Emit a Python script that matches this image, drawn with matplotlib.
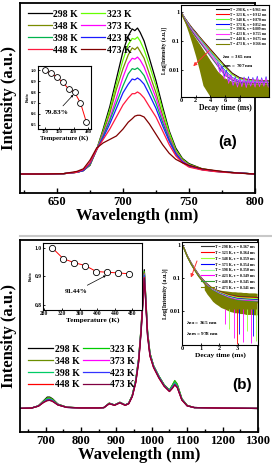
import numpy as np
import matplotlib.pyplot as plt
from matplotlib.ticker import MultipleLocator
from matplotlib.lines import Line2D

plt.rcParams['font.family'] = ['Liberation Serif', 'DejaVu Serif']
plt.rcParams['font.weight'] = 'bold'
plt.rcParams['axes.labelweight'] = 'bold'
plt.rcParams['mathtext.default'] = 'bf'

temps = [298, 323, 348, 373, 398, 423, 448, 473]
labels = ['%d K' % t for t in temps]

# ---- (a) emission spectra, 707 nm band
wl_a = [622, 640, 655, 665, 670, 675, 680, 685, 690, 695, 700, 704, 707, 709, 711,
        713, 716, 720, 725, 730, 735, 740, 745, 750, 760, 770, 780, 790, 800]
spec_a = {
    298: [0.11, 0.11, 0.112, 0.12, 0.13, 0.16, 0.25, 0.37, 0.50, 0.66, 0.82, 0.91, 0.95, 0.94, 0.955,
          0.93, 0.88, 0.78, 0.65, 0.50, 0.36, 0.26, 0.20, 0.17, 0.14, 0.128, 0.12, 0.115, 0.11],
    323: [0.11, 0.11, 0.112, 0.12, 0.13, 0.165, 0.25, 0.36, 0.48, 0.63, 0.77, 0.86, 0.895, 0.89, 0.903,
          0.88, 0.83, 0.74, 0.62, 0.48, 0.35, 0.25, 0.195, 0.165, 0.14, 0.127, 0.12, 0.115, 0.11],
    348: [0.11, 0.11, 0.112, 0.12, 0.13, 0.17, 0.25, 0.35, 0.46, 0.60, 0.72, 0.80, 0.84, 0.83, 0.845,
          0.82, 0.78, 0.69, 0.58, 0.45, 0.33, 0.24, 0.19, 0.16, 0.138, 0.126, 0.12, 0.115, 0.11],
    373: [0.11, 0.11, 0.112, 0.12, 0.13, 0.17, 0.25, 0.34, 0.43, 0.55, 0.67, 0.75, 0.78, 0.775, 0.787,
          0.77, 0.73, 0.65, 0.55, 0.43, 0.32, 0.235, 0.185, 0.16, 0.137, 0.126, 0.12, 0.115, 0.11],
    398: [0.11, 0.11, 0.112, 0.12, 0.13, 0.17, 0.25, 0.33, 0.42, 0.52, 0.62, 0.69, 0.72, 0.715, 0.724,
          0.71, 0.68, 0.61, 0.52, 0.41, 0.31, 0.23, 0.18, 0.155, 0.135, 0.125, 0.12, 0.115, 0.11],
    423: [0.11, 0.11, 0.112, 0.12, 0.13, 0.17, 0.25, 0.32, 0.40, 0.49, 0.58, 0.63, 0.66, 0.655, 0.666,
          0.655, 0.63, 0.57, 0.49, 0.39, 0.30, 0.225, 0.18, 0.155, 0.135, 0.125, 0.12, 0.115, 0.11],
    448: [0.11, 0.11, 0.112, 0.12, 0.135, 0.175, 0.25, 0.31, 0.37, 0.44, 0.51, 0.55, 0.575, 0.575, 0.585,
          0.575, 0.55, 0.50, 0.44, 0.36, 0.28, 0.215, 0.175, 0.15, 0.133, 0.124, 0.118, 0.114, 0.11],
    473: [0.11, 0.11, 0.112, 0.125, 0.14, 0.19, 0.26, 0.29, 0.31, 0.33, 0.37, 0.41, 0.43, 0.445, 0.45,
          0.45, 0.44, 0.40, 0.34, 0.28, 0.23, 0.195, 0.175, 0.16, 0.14, 0.13, 0.12, 0.114, 0.11],
}
colors_a = ['black', '#66ff00', '#7a8c00', '#ff00ff', '#00b34d', '#1a1aff', '#ff1a40', '#800000']

ratio_a = [1.0, 0.975, 0.94, 0.89, 0.83, 0.7983, 0.70, 0.52]

# ---- (a) decay curves
t_a = [0, 0.25, 0.5, 1, 1.5, 2, 2.5, 3, 4, 5, 6, 7, 8, 9, 10, 11, 12]
decay_a = {
    298: [1.0, 0.78, 0.62, 0.41, 0.28, 0.20, 0.14, 0.10, 0.052, 0.027, 0.014, 0.0078, 0.0055, 0.0048, 0.0045, 0.0044, 0.0043],
    323: [1.0, 0.77, 0.61, 0.40, 0.27, 0.19, 0.135, 0.095, 0.049, 0.025, 0.013, 0.0072, 0.0052, 0.0046, 0.0044, 0.0043, 0.0042],
    348: [1.0, 0.76, 0.60, 0.39, 0.26, 0.18, 0.13, 0.09, 0.046, 0.024, 0.0125, 0.007, 0.005, 0.0045, 0.0043, 0.0042, 0.0042],
    373: [1.0, 0.75, 0.59, 0.37, 0.25, 0.17, 0.12, 0.083, 0.041, 0.020, 0.0095, 0.0055, 0.0042, 0.0040, 0.0038, 0.0039, 0.0038],
    398: [1.0, 0.74, 0.58, 0.36, 0.24, 0.165, 0.115, 0.08, 0.039, 0.019, 0.009, 0.0053, 0.0041, 0.0039, 0.0038, 0.0038, 0.0037],
    423: [1.0, 0.73, 0.56, 0.35, 0.23, 0.155, 0.105, 0.073, 0.035, 0.017, 0.0082, 0.005, 0.004, 0.0038, 0.0037, 0.0037, 0.0036],
    448: [1.0, 0.71, 0.54, 0.33, 0.21, 0.14, 0.095, 0.065, 0.03, 0.014, 0.0068, 0.0045, 0.0038, 0.0036, 0.0035, 0.0035, 0.0035],
    473: [1.0, 0.68, 0.50, 0.29, 0.18, 0.115, 0.075, 0.048, 0.02, 0.0085, 0.005, 0.0038, 0.0035, 0.0034, 0.0034, 0.0034, 0.0034],
}
olive_low_a = [1.0, 0.66, 0.45, 0.2, 0.08, 0.03, 0.01, 0.003, 0.0012, 0.0012, 0.0012, 0.0012, 0.0012, 0.0012, 0.0012, 0.0012, 0.0012]
tau_a = ['0.961', '0.912', '0.870', '0.852', '0.809', '0.755', '0.675', '0.566']
colors_da = ['black', 'red', '#66ff33', '#0000ff', '#99ff99', '#ff33ff', '#555577', '#7a8000']

noise_t_a = [5.0, 5.3, 5.6, 5.9, 6.2, 6.5, 6.8, 7.1, 7.4, 7.7, 8.0, 8.3, 8.6, 8.9, 9.2, 9.5,
             9.8, 10.1, 10.4, 10.7, 11.0, 11.3, 11.6, 11.9]
blue_noise_a = [0.018, 0.009, 0.014, 0.006, 0.010, 0.004, 0.007, 0.003, 0.006, 0.0028, 0.0055, 0.003,
                0.0058, 0.0027, 0.006, 0.0029, 0.0056, 0.003, 0.0062, 0.0028, 0.0055, 0.003, 0.006, 0.0029]
mag_noise_a = [0.015, 0.008, 0.011, 0.005, 0.008, 0.0035, 0.0065, 0.003, 0.0052, 0.0026, 0.005, 0.0027,
               0.0054, 0.0025, 0.0052, 0.0028, 0.005, 0.0026, 0.0055, 0.0027, 0.005, 0.0028, 0.0053, 0.0026]

# ---- (b) emission spectra, 978 nm band
wl_b = [625, 660, 680, 695, 705, 712, 720, 735, 760, 800, 850, 865, 880, 895, 910, 925, 935, 945,
        955, 963, 970, 975, 979, 983, 988, 995, 1005, 1020, 1035, 1050, 1058, 1065, 1072, 1085,
        1100, 1120, 1200, 1300]
spec_b = {
    298: [0.135, 0.137, 0.15, 0.18, 0.20, 0.20, 0.19, 0.16, 0.142, 0.138, 0.138, 0.14, 0.165, 0.155, 0.17, 0.155, 0.165, 0.21,
          0.30, 0.42, 0.60, 0.78, 0.93, 0.78, 0.58, 0.45, 0.38, 0.32, 0.27, 0.24, 0.265, 0.29, 0.27, 0.19,
          0.152, 0.14, 0.137, 0.135],
    323: [0.135, 0.137, 0.15, 0.178, 0.195, 0.196, 0.187, 0.158, 0.142, 0.138, 0.138, 0.14, 0.165, 0.155, 0.17, 0.155, 0.165, 0.21,
          0.30, 0.42, 0.60, 0.77, 0.92, 0.77, 0.58, 0.45, 0.38, 0.32, 0.27, 0.24, 0.268, 0.295, 0.275, 0.19,
          0.152, 0.14, 0.137, 0.135],
    348: [0.135, 0.137, 0.15, 0.177, 0.194, 0.195, 0.186, 0.158, 0.142, 0.138, 0.138, 0.14, 0.165, 0.155, 0.17, 0.155, 0.165, 0.21,
          0.30, 0.42, 0.59, 0.77, 0.915, 0.77, 0.57, 0.45, 0.38, 0.32, 0.27, 0.24, 0.265, 0.29, 0.27, 0.19,
          0.152, 0.14, 0.137, 0.135],
    373: [0.135, 0.137, 0.149, 0.173, 0.186, 0.187, 0.18, 0.156, 0.141, 0.138, 0.138, 0.14, 0.163, 0.154, 0.168, 0.154, 0.163, 0.205,
          0.29, 0.41, 0.59, 0.76, 0.905, 0.76, 0.57, 0.44, 0.375, 0.315, 0.265, 0.235, 0.255, 0.275, 0.26, 0.185,
          0.15, 0.14, 0.137, 0.135],
    398: [0.135, 0.137, 0.149, 0.175, 0.19, 0.19, 0.183, 0.157, 0.141, 0.138, 0.138, 0.14, 0.164, 0.154, 0.169, 0.154, 0.164, 0.207,
          0.295, 0.41, 0.59, 0.76, 0.90, 0.76, 0.57, 0.445, 0.378, 0.318, 0.268, 0.238, 0.262, 0.285, 0.265, 0.188,
          0.151, 0.14, 0.137, 0.135],
    423: [0.135, 0.137, 0.149, 0.172, 0.185, 0.186, 0.179, 0.156, 0.141, 0.138, 0.138, 0.14, 0.163, 0.154, 0.168, 0.154, 0.163, 0.205,
          0.29, 0.41, 0.58, 0.75, 0.895, 0.75, 0.56, 0.44, 0.375, 0.315, 0.265, 0.235, 0.255, 0.275, 0.258, 0.185,
          0.15, 0.14, 0.137, 0.135],
    448: [0.135, 0.137, 0.148, 0.17, 0.18, 0.182, 0.176, 0.155, 0.141, 0.138, 0.138, 0.14, 0.162, 0.153, 0.167, 0.153, 0.162, 0.203,
          0.285, 0.40, 0.58, 0.75, 0.885, 0.75, 0.56, 0.435, 0.37, 0.31, 0.262, 0.232, 0.25, 0.27, 0.255, 0.183,
          0.15, 0.14, 0.137, 0.135],
    473: [0.135, 0.137, 0.148, 0.17, 0.18, 0.181, 0.175, 0.155, 0.141, 0.138, 0.138, 0.14, 0.162, 0.153, 0.167, 0.153, 0.162, 0.203,
          0.285, 0.40, 0.57, 0.74, 0.88, 0.74, 0.55, 0.435, 0.37, 0.31, 0.262, 0.232, 0.25, 0.27, 0.255, 0.183,
          0.15, 0.14, 0.137, 0.135],
}
colors_b = ['black', '#00cc00', '#6b8e00', '#ff00ff', '#00cc66', '#3333ff', '#ff0000', '#800040']

ratio_b = [1.0, 0.962, 0.948, 0.938, 0.917, 0.9144, 0.912, 0.909]

# ---- (b) decay curves
t_b = [0, 0.1, 0.2, 0.3, 0.5, 0.7, 0.9, 1.1, 1.3, 1.6, 2.0, 2.5, 3.0, 3.5, 4.1]
decay_b = {
    298: [1.0, 0.85, 0.62, 0.46, 0.29, 0.19, 0.13, 0.095, 0.072, 0.052, 0.040, 0.032, 0.028, 0.027, 0.026],
    323: [1.0, 0.84, 0.61, 0.455, 0.285, 0.186, 0.127, 0.093, 0.07, 0.05, 0.039, 0.031, 0.027, 0.026, 0.025],
    348: [1.0, 0.84, 0.61, 0.45, 0.28, 0.183, 0.125, 0.091, 0.068, 0.049, 0.038, 0.030, 0.026, 0.025, 0.024],
    373: [1.0, 0.83, 0.60, 0.445, 0.275, 0.18, 0.122, 0.089, 0.066, 0.047, 0.036, 0.028, 0.024, 0.023, 0.022],
    398: [1.0, 0.83, 0.60, 0.44, 0.272, 0.178, 0.12, 0.087, 0.065, 0.046, 0.035, 0.027, 0.023, 0.022, 0.021],
    423: [1.0, 0.83, 0.60, 0.44, 0.27, 0.176, 0.118, 0.086, 0.064, 0.045, 0.034, 0.026, 0.022, 0.021, 0.02],
    448: [1.0, 0.82, 0.59, 0.435, 0.265, 0.173, 0.116, 0.084, 0.062, 0.044, 0.033, 0.025, 0.021, 0.02, 0.019],
    473: [1.0, 0.82, 0.59, 0.43, 0.26, 0.17, 0.113, 0.082, 0.06, 0.042, 0.032, 0.024, 0.02, 0.019, 0.018],
}
tau_b = ['0.367', '0.364', '0.359', '0.354', '0.350', '0.349', '0.345', '0.341']
colors_db = ['#333333', 'red', '#99ff33', '#0000ff', '#99ff99', '#ff00ff', '#339933', '#7a8000']

noise_t_b = [1.2, 1.35, 1.5, 1.65, 1.8, 1.95, 2.1, 2.25, 2.4, 2.55, 2.7, 2.85, 3.0, 3.15, 3.3, 3.45,
             3.6, 3.75, 3.9, 4.05]
olive_hi_b = [0.075, 0.06, 0.055, 0.05, 0.047, 0.045, 0.043, 0.042, 0.041, 0.04, 0.039, 0.039, 0.038, 0.038,
              0.037, 0.037, 0.036, 0.036, 0.036, 0.035]
olive_lo_b = [0.045, 0.033, 0.026, 0.02, 0.017, 0.015, 0.013, 0.012, 0.011, 0.01, 0.0095, 0.009, 0.009, 0.0085,
              0.0085, 0.008, 0.008, 0.008, 0.0078, 0.0078]
spike_t_b = [2.3, 2.55, 2.8, 2.95, 3.1, 3.3, 3.5, 3.7, 3.85, 4.0]
spike_lo_b = [0.004, 0.003, 0.0015, 0.001, 0.002, 0.0012, 0.0025, 0.0011, 0.0018, 0.0013]
spike_col_b = ['#ff00ff', '#99ff33', '#ff00ff', 'red', '#0000ff', '#ff00ff', '#99ff33', '#ff00ff', '#0000ff', '#99ff33']

W, H = 272, 469
fig = plt.figure(figsize=(W / 100, H / 100), dpi=100)


def box(x0, y0, x1, y1):
    # pixel box (top-left origin) -> figure fraction rect
    return [x0 / W, (H - y1) / H, (x1 - x0) / W, (y1 - y0) / H]


def style_main(ax):
    for s in ax.spines.values():
        s.set_linewidth(1.3)
    ax.set_yticks([])
    ax.tick_params(axis='x', direction='in', length=3.5, width=1, labelsize=9, pad=2)
    ax.tick_params(axis='x', which='minor', direction='in', length=2.5, width=1)
    ax.set_ylabel('Intensity (a.u.)', fontsize=12, labelpad=2)
    ax.set_xlabel('Wavelength (nm)', fontsize=12, labelpad=0)


def style_inset(ax, fs=3.5):
    for s in ax.spines.values():
        s.set_linewidth(0.8)
    ax.tick_params(direction='in', length=1.5, width=0.6, labelsize=fs, pad=1)


def row_legend(ax, anchor, hl):
    # legend reads across rows: 298 323 / 348 373 / ...
    h, l = ax.get_legend_handles_labels()
    order = [0, 2, 4, 6, 1, 3, 5, 7]
    ax.legend([h[i] for i in order], [l[i] for i in order], ncol=2, loc='upper left',
              bbox_to_anchor=anchor, frameon=False, fontsize=7, handlelength=hl,
              handletextpad=0.2, columnspacing=0.3, labelspacing=0.3, borderaxespad=0.2)


# ================= panel (a)
ax = fig.add_axes(box(20, 3, 255, 193))
for t, c, lab in zip(temps, colors_a, labels):
    ax.plot(wl_a, spec_a[t], color=c, lw=0.9, label=lab)
ax.set_xlim(622, 800)
ax.set_ylim(0, 1.1)
ax.xaxis.set_major_locator(MultipleLocator(50))
ax.xaxis.set_minor_locator(MultipleLocator(25))
style_main(ax)
row_legend(ax, (0.01, 0.995), 2.4)
fig.text(218 / W, 1 - 142 / H, '(a)', fontsize=11, family='Liberation Sans', weight='bold',
         ha='left', va='center')

# ratio inset (a)
ia = fig.add_axes(box(38, 66, 91, 129))
ia.plot(temps, ratio_a, color='red', lw=0.7)
ia.plot(temps, ratio_a, 'o', ms=4.2, mfc='white', mec='black', mew=0.6)
ia.set_xlim(270, 492)
ia.set_ylim(0.46, 1.04)
ia.set_xticks([300, 360, 420, 480])
ia.set_yticks([0.5, 0.6, 0.7, 0.8, 0.9, 1.0])
style_inset(ia, 3.3)
ia.set_xlabel('Temperature (K)', fontsize=4.8, labelpad=0.5)
ia.set_ylabel('Ratio', fontsize=3, labelpad=1)
ia.annotate('79.83%', xy=(418, 0.775), xytext=(350, 0.615), fontsize=5.3, ha='center', va='center',
            arrowprops=dict(arrowstyle='-|>', lw=0.5, color='black', mutation_scale=3,
                            shrinkA=1, shrinkB=0))

# decay inset (a)
da = fig.add_axes(box(181, 5, 269, 97))
da.fill_between(t_a, olive_low_a, decay_a[473], color='#7a8000', lw=0)
for t, c, tau in zip(temps, colors_da, tau_a):
    da.plot(t_a, decay_a[t], color=c, lw=0.8, label='T = %d K, \u03c4 = %s ms' % (t, tau))
da.plot(noise_t_a, blue_noise_a, color='#3333ff', lw=0.5)
da.plot(noise_t_a, mag_noise_a, color='#ff33ff', lw=0.5)
da.set_yscale('log')
da.set_xlim(0, 12)
da.set_ylim(0.0012, 1.7)
da.set_yticks([1, 0.1, 0.01])
da.set_yticklabels(['1', '0.1', '0.01'])
da.yaxis.set_minor_locator(plt.NullLocator())
da.set_xticks([0, 2, 4, 6, 8])
style_inset(da, 4.5)
da.set_xlabel('Decay time (ms)', fontsize=5.5, labelpad=0.5)
da.set_ylabel('Log[Intensity (a.u.)]', fontsize=4, labelpad=1)
da.legend(loc='upper right', frameon=False, fontsize=2.6, handlelength=3.5, handletextpad=0.4,
          labelspacing=0.25, borderaxespad=0.3)
da.annotate('', xy=(1.4, 0.0117), xytext=(4.2, 0.057),
            arrowprops=dict(arrowstyle='-|>', lw=0.7, color='#ff3333', mutation_scale=5))
da.text(0.47, 0.42, '\u03bb$_{ex}$ = 365 nm', transform=da.transAxes, fontsize=3.6)
da.text(0.47, 0.33, '\u03bb$_{em}$ = 707 nm', transform=da.transAxes, fontsize=3.6)

# separator line between panels
fig.add_artist(Line2D([20 / W, 1.0], [(H - 236) / H, (H - 236) / H], color='#c8c8c8', lw=1.5))

# ================= panel (b)
bx = fig.add_axes(box(20, 240, 258, 432))
for t, c, lab in zip(temps, colors_b, labels):
    bx.plot(wl_b, spec_b[t], color=c, lw=0.9, label=lab)
bx.set_xlim(628, 1300)
bx.set_ylim(0, 1.1)
bx.xaxis.set_major_locator(MultipleLocator(100))
bx.xaxis.set_minor_locator(MultipleLocator(50))
style_main(bx)
row_legend(bx, (0.01, 0.485), 2.6)
fig.text(232 / W, 1 - 385 / H, '(b)', fontsize=11, family='Liberation Sans', weight='bold',
         ha='left', va='center')

# ratio inset (b)
ib = fig.add_axes(box(43, 243, 142, 310))
ib.plot(temps, ratio_b, color='red', lw=0.7)
ib.plot(temps, ratio_b, 'o', ms=4.5, mfc='white', mec='black', mew=0.6)
ib.set_xlim(277, 502)
ib.set_ylim(0.782, 1.017)
ib.set_xticks([280, 320, 360, 400, 440, 480])
ib.set_yticks([0.8, 0.9, 1.0])
style_inset(ib, 4)
ib.set_xlabel('Temperature (K)', fontsize=5.3, labelpad=0.3)
ib.set_ylabel('Ratio', fontsize=3, labelpad=1)
ib.annotate('91.44%', xy=(420, 0.903), xytext=(352, 0.848), fontsize=5, ha='center', va='center',
            arrowprops=dict(arrowstyle='-|>', lw=0.5, color='black', mutation_scale=3,
                            shrinkA=1, shrinkB=0))

# decay inset (b)
db = fig.add_axes(box(182, 242, 258, 345))
for t, c, tau in zip(temps, colors_db, tau_b):
    db.plot(t_b, decay_b[t], color=c, lw=0.8, label='T = %d K, \u03c4 = %s ms' % (t, tau))
db.vlines(spike_t_b, spike_lo_b, [0.012] * len(spike_t_b), colors=spike_col_b, lw=0.6)
db.fill_between(noise_t_b, olive_lo_b, olive_hi_b, color='#7a8000', lw=0)
db.set_yscale('log')
db.set_xlim(0, 4.1)
db.set_ylim(0.00095, 1.25)
db.set_yticks([1, 0.1, 0.01])
db.set_yticklabels(['1', '0.1', '0.01'])
db.yaxis.set_minor_locator(plt.NullLocator())
db.set_xticks([0, 1, 2, 3])
style_inset(db, 4.5)
db.set_xlabel('Decay time (ms)', fontsize=5.3, labelpad=0.5)
db.set_ylabel('Log[Intensity (a.u.)]', fontsize=4.2, labelpad=1)
db.legend(loc='upper right', frameon=False, fontsize=2.9, handlelength=3.2, handletextpad=0.4,
          labelspacing=0.45, borderaxespad=0.3)
db.annotate('', xy=(0.43, 0.087), xytext=(0.86, 0.4),
            arrowprops=dict(arrowstyle='-|>', lw=0.7, color='#ff3333', mutation_scale=5))
db.text(0.05, 0.2, '\u03bb$_{ex}$ = 365 nm', transform=db.transAxes, fontsize=3.8)
db.text(0.05, 0.1, '\u03bb$_{em}$ = 978 nm', transform=db.transAxes, fontsize=3.8)

fig.savefig('out.png', dpi=100)
